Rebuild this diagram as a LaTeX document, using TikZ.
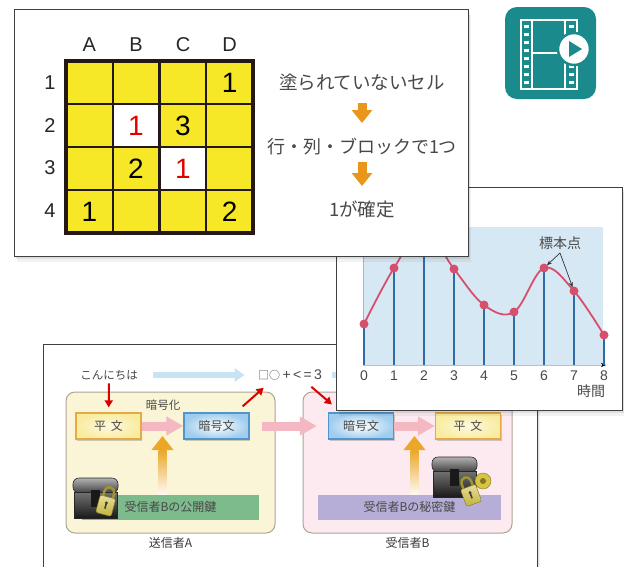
\documentclass[tikz,border=0pt]{standalone}
\usepackage{fontspec}
\setmainfont{Liberation Sans}
\newfontfamily\jpfont{Noto Sans CJK JP}
\usetikzlibrary{arrows.meta,calc,positioning}

\definecolor{CellYellow}{RGB}{246,232,38}
\definecolor{GridInk}{RGB}{35,24,21}
\definecolor{StepOrange}{RGB}{233,150,26}
\definecolor{TextGray}{RGB}{72,72,72}
\definecolor{PlotBlue}{RGB}{214,232,243}
\definecolor{StemBlue}{RGB}{46,108,168}
\definecolor{CurvePink}{RGB}{214,80,110}
\definecolor{SenderFill}{RGB}{250,245,214}
\definecolor{ReceiverFill}{RGB}{252,234,240}
\definecolor{GroupEdge}{RGB}{175,163,150}
\definecolor{PlainFill}{RGB}{249,236,160}
\definecolor{PlainEdge}{RGB}{228,170,70}
\definecolor{CipherFill}{RGB}{160,205,238}
\definecolor{CipherEdge}{RGB}{80,150,205}
\definecolor{FlowPink}{RGB}{243,184,193}
\definecolor{FlowBlue}{RGB}{200,228,244}
\definecolor{KeyOrange}{RGB}{236,166,40}
\definecolor{PubGreen}{RGB}{125,186,140}
\definecolor{SecPurple}{RGB}{182,174,215}
\definecolor{LockGold}{RGB}{214,196,66}
\definecolor{IconTeal}{RGB}{26,138,140}

\tikzset{
    card/.style={
      draw=black!75,
      fill=white,
      line width=0.9pt,
      preaction={fill=black, opacity=0.05, transform canvas={xshift=3pt, yshift=-6pt}},
      preaction={fill=black, opacity=0.08, transform canvas={xshift=1.5pt, yshift=-3pt}}
    },
    gridnum/.style={font=\fontsize{28}{28}\selectfont, text=black},
    gridlabel/.style={font=\fontsize{20}{20}\selectfont, text=black!85},
    steptext/.style={font=\jpfont\fontsize{18.5}{18.5}\selectfont, text=TextGray},
    stepflow/.style={draw=StepOrange, line width=9pt, -{Triangle[width=20pt,length=13pt]}},
    ticklabel/.style={font=\fontsize{14}{14}\selectfont, text=TextGray},
    plotnote/.style={font=\jpfont\fontsize{14}{14}\selectfont, text=TextGray},
    pointer/.style={draw=black!80, line width=0.7pt, -{Stealth[length=5pt,width=4pt]}, shorten >=4pt},
    msg/.style={font=\jpfont\fontsize{11.5}{11.5}\selectfont, text=TextGray},
    groupbox/.style={
      draw=GroupEdge,
      line width=1pt,
      rounded corners=9pt,
      minimum width=209pt,
      minimum height=141pt,
      inner sep=0pt
    },
    grouplabel/.style={font=\jpfont\fontsize{12}{12}\selectfont, text=TextGray!80!black},
    plainbox/.style={
      rectangle,
      draw=PlainEdge,
      line width=1.3pt,
      inner color=PlainFill!35,
      outer color=PlainFill,
      minimum width=65pt,
      minimum height=26pt,
      font=\jpfont\fontsize{12}{12}\selectfont,
      text=TextGray,
      preaction={fill=black, opacity=0.18, transform canvas={xshift=1pt, yshift=-1.5pt}}
    },
    cipherbox/.style={
      plainbox,
      draw=CipherEdge,
      inner color=white,
      outer color=CipherFill
    },
    keybar/.style={
      rectangle,
      inner sep=0pt,
      minimum height=25pt,
      font=\jpfont\fontsize{12}{12}\selectfont,
      text=TextGray
    },
    redarrow/.style={draw=red!85!black, line width=2pt, -{Triangle[width=8pt,length=7pt]}},
    lightflow/.style={draw=FlowBlue, line width=6pt, -{Triangle[width=13pt,length=10pt]}},
    pinkflow/.style={draw=FlowPink, line width=9pt, -{Triangle[width=18pt,length=17pt]}}
}

% fading key arrow from a key bar up to a point on a flow
\newcommand{\keyflow}[2]{%
  \shade[top color=KeyOrange, bottom color=KeyOrange!6]
    ($(#2)+(-4,24)$) rectangle ($(#2 |- #1.north)+(4,0)$);
  \fill[KeyOrange] ($(#2)+(-11,24)$) -- ($(#2)+(0,10)$) -- ($(#2)+(11,24)$) -- cycle;
}

% treasure chest, top left corner at #1
\newcommand{\drawchest}[1]{%
  \begin{scope}[shift={(#1)}]
    \shade[top color=black!30, bottom color=black!75, draw=black!85, line width=0.6pt, rounded corners=6pt]
      (0,17) -- (0,2) -- (45,2) -- (45,17) -- cycle;
    \shade[top color=black!55, bottom color=black!90, draw=black!85, line width=0.6pt]
      (1,16) rectangle (44,42);
    \fill[black!90] (18,14) rectangle (27,31);
  \end{scope}
}

% padlock, shackle base at #1, tilted by #2
\newcommand{\drawlock}[2]{%
  \begin{scope}[shift={(#1)}, rotate=#2]
    \draw[LockGold!75!black, line width=2.5pt] (-5,1) -- (-5,-5) arc[start angle=180, end angle=360, radius=5] -- (5,1);
    \shade[top color=LockGold!55, bottom color=LockGold!90!black, draw=LockGold!60!black, rounded corners=2pt]
      (-8,0) rectangle (8,18);
    \fill[black!75] (0,6) circle (1.6pt);
    \fill[black!75] (-0.8,6) rectangle (0.8,12);
  \end{scope}
}

\begin{document}
\begin{tikzpicture}[x=1pt,y=-1pt]

    \useasboundingbox (0,0) rectangle (624,566);
    \fill[white] (0,0) rectangle (624,566);

    % public key card
    \begin{scope}
      \draw[card] (43,344) rectangle (537,600);

      \node[msg] (hello) at (109,375) {こんにちは};
      \node[msg, font=\fontsize{14}{14}\selectfont] (cipher) at (290,375)
        {{\jpfont\fontsize{11}{11}\selectfont □○}\,+\,<\,=\,3};
      \coordinate (relay) at (420,375);
      \draw[lightflow, shorten <=12pt, shorten >=10pt] (hello.east) -- (cipher.west);
      \draw[lightflow, shorten <=7pt] (cipher.east) -- (relay);

      \node[groupbox, fill=SenderFill] (sender) at (170.5,462.5) {};
      \node[grouplabel, below=0pt of sender] (senderlabel) {送信者A};
      \node[groupbox, fill=ReceiverFill] (receiver) at (407.5,462.5) {};
      \node[grouplabel, below=0pt of receiver] (receiverlabel) {受信者B};

      \node[msg] (encrypt) at (163,405) {暗号化};
      \node[plainbox] (plainA) at (108.5,426) {平\hspace{5pt}文};
      \node[cipherbox] (cipherA) at (216.5,426) {暗号文};
      \node[cipherbox] (cipherB) at (361,426) {暗号文};
      \node[plainbox] (plainB) at (468,426) {平\hspace{5pt}文};

      \node[keybar, fill=PubGreen, minimum width=177pt] (pubkey) at (170.5,507) {受信者Bの公開鍵};
      \node[keybar, fill=SecPurple, minimum width=183pt] (seckey) at (409.5,507) {受信者Bの秘密鍵};

      \coordinate (encA) at ($(plainA.east)!0.5!(cipherA.west)$);
      \coordinate (decB) at ($(cipherB.east)!0.5!(plainB.west)$);
      \keyflow{pubkey}{encA}
      \keyflow{seckey}{decB}

      \draw[pinkflow] (plainA) -- (cipherA);
      \draw[pinkflow, shorten <=12pt, shorten >=11pt] (cipherA) -- (cipherB);
      \draw[pinkflow] (cipherB) -- (plainB);

      \draw[redarrow, shorten >=5pt] (hello) -- (plainA);
      \draw[redarrow] ($(cipherA.north east)+(-7,-6)$) -- ($(cipher.south west)+(9,4)$);
      \draw[redarrow] ($(cipher.south east)+(-14,3)$) -- ($(cipherB.north west)+(4,-8)$);

      \drawchest{73,476}
      \drawlock{108,497}{-15}
      \drawchest{432,455}
      \drawlock{468,487}{20}
      \fill[LockGold, draw=LockGold!60!black] (483,481) circle (8pt);
      \fill[LockGold!60!black] (483,481) circle (3pt);
    \end{scope}

    % sampling card
    \begin{scope}
      \draw[card] (336,187) rectangle (622,410);
      \fill[PlotBlue] (363,227) rectangle (603,365);
      \draw[gray!60] (363,227) -- (363,365);
      \draw[black!25, -{Stealth[length=5pt,width=4pt,black]}] (363,365) -- (606,365);

      \foreach \i/\v in {0/324,1/268,2/230,3/269,4/305,5/312,6/268,7/291,8/335} {
        \coordinate (p\i) at (364+30*\i,\v);
        \draw[StemBlue, line width=2.5pt] (p\i) -- (364+30*\i,365);
        \node[ticklabel] (t\i) at (364+30*\i,376) {\i};
      }
      \draw[CurvePink, line width=1.8pt] plot[smooth, tension=0.6]
        coordinates {(p0) (p1) (p2) (p3) (p4) (p5) (p6) (p7) (p8)};
      \foreach \i in {0,...,8} {
        \fill[CurvePink] (p\i) circle (4.5pt);
      }

      \node[plotnote] (timeaxis) at (591,391) {時間};
      \node[plotnote] (samples) at (560,243) {標本点};
      \draw[pointer] (samples.south) -- (p6);
      \draw[pointer] (samples.south) -- (p7);
    \end{scope}

    % sudoku card
    \begin{scope}
      \draw[card] (14,9) rectangle (468,256);

      \foreach \c in {0,...,3} {
        \foreach \r in {0,...,3} {
          \fill[CellYellow] (66+46.75*\c,61+43*\r) rectangle ++(46.75,43);
        }
      }
      \fill[white] (112.75,104) rectangle ++(46.75,43);
      \fill[white] (159.5,147) rectangle ++(46.75,43);

      \foreach \i in {1,3} {
        \draw[GridInk, line width=1.6pt] (66+46.75*\i,61) -- ++(0,172);
        \draw[GridInk, line width=1.6pt] (66,61+43*\i) -- ++(187,0);
      }
      \draw[GridInk, line width=2.8pt] (159.5,61) -- (159.5,233);
      \draw[GridInk, line width=2.8pt] (66,147) -- (253,147);
      \draw[GridInk, line width=3.2pt] (66,61) rectangle (253,233);

      \node[gridlabel] (colA) at (89.4,45) {A};
      \node[gridlabel] (colB) at (136,45) {B};
      \node[gridlabel] (colC) at (183,45) {C};
      \node[gridlabel] (colD) at (229.6,45) {D};
      \node[gridlabel] (row1) at (50,83) {1};
      \node[gridlabel] (row2) at (50,126) {2};
      \node[gridlabel] (row3) at (50,168) {3};
      \node[gridlabel] (row4) at (50,211) {4};

      \node[gridnum] (d1) at (229.6,82.5) {1};
      \node[gridnum, text=red!90!black] (b2) at (136,125.5) {1};
      \node[gridnum] (c2) at (183,125.5) {3};
      \node[gridnum] (b3) at (136,168.5) {2};
      \node[gridnum, text=red!90!black] (c3) at (183,168.5) {1};
      \node[gridnum] (a4) at (89.4,211.5) {1};
      \node[gridnum] (d4) at (229.6,211.5) {2};

      \node[steptext] (unpainted) at (362,82.5) {塗られていないセル};
      \node[steptext, font=\jpfont\fontsize{18}{18}\selectfont] (unique) at (362,147) {行・列・ブロックで1つ};
      \node[steptext] (fixed) at (362,209) {1が確定};
      \draw[stepflow, shorten <=20pt, shorten >=24pt] (unpainted.center) -- (unique.center);
      \draw[stepflow, shorten <=15pt, shorten >=23pt] (unique.center) -- (fixed.center);
    \end{scope}

    % video icon
    \begin{scope}
      \fill[IconTeal, rounded corners=12pt] (505,7) rectangle (596,99);
      \draw[white, line width=2.5pt] (521,20) rectangle (577,89);
      \draw[white, line width=2pt] (532,20) -- (532,89) (565,20) -- (565,89) (532,53) -- (565,53);
      \foreach \y in {25,33,...,85} {
        \fill[white] (524,\y) rectangle ++(5,3);
        \fill[white] (569,\y) rectangle ++(5,3);
      }
      \node[circle, fill=white, draw=IconTeal, line width=2.5pt, minimum size=32pt, inner sep=0pt] (play) at (574,49) {};
      \fill[IconTeal] ($(play)+(-5,-8)$) -- ($(play)+(8,0)$) -- ($(play)+(-5,8)$) -- cycle;
    \end{scope}

\end{tikzpicture}
\end{document}
